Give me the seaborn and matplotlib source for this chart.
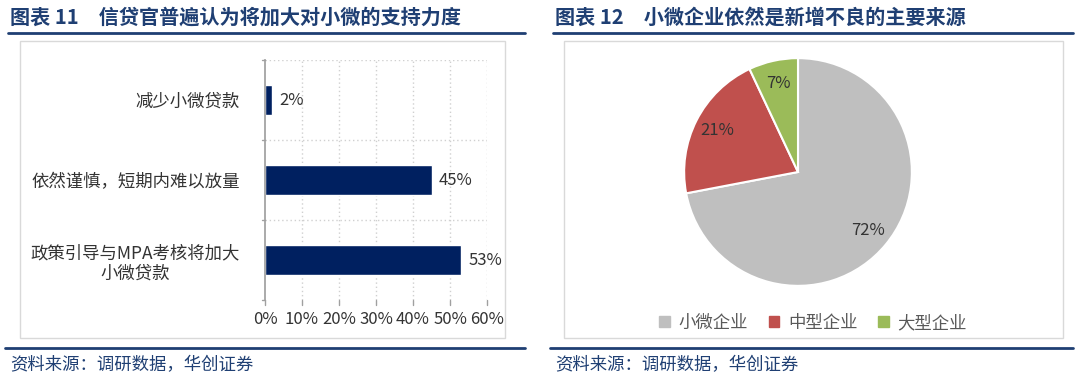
import matplotlib
matplotlib.use("Agg")
import matplotlib.pyplot as plt
from matplotlib.patches import Rectangle
from matplotlib.lines import Line2D
import seaborn as sns
import pandas as pd

# data
bar_labels = ["减少小微贷款", "依然谨慎，短期内难以放量", "政策引导与MPA考核将加大\n小微贷款"]
bar_values = [2, 45, 53]
pie_labels = ["小微企业", "中型企业", "大型企业"]
pie_values = [72, 21, 7]
pie_colors = ["#BFBFBF", "#C0504D", "#9BBB59"]

sns.set_theme(style="white")
plt.rcParams['font.family'] = ['Noto Sans CJK SC', 'DejaVu Sans']

W, H = 1080, 383
fig = plt.figure(figsize=(W / 100, H / 100), dpi=100)
fig.patch.set_facecolor("white")

navy = "#1F3F73"

def px(x, y):
    return x / W, 1 - y / H

# titles, rules and source lines
for x0, x1, title in [(8, 525, "图表 11　信贷官普遍认为将加大对小微的支持力度"),
                      (553, 1073, "图表 12　小微企业依然是新增不良的主要来源")]:
    fig.text(*px(x0 + 2, 17), title, fontsize=14.5, fontweight="bold", color=navy, va="center", ha="left")
    fig.add_artist(Line2D([x0 / W, x1 / W], [1 - 33 / H] * 2, color=navy, lw=2))
    fig.add_artist(Line2D([(x0 - 3) / W, x1 / W], [1 - 348 / H] * 2, color=navy, lw=2))
    fig.text(*px(x0 + 2, 365), "资料来源：调研数据，华创证券", fontsize=12.5, style="italic",
             color=navy, va="center", ha="left")

# inner boxes
for x0, x1 in [(20, 505), (564, 1063)]:
    fig.add_artist(Rectangle((x0 / W, 1 - 338 / H), (x1 - x0) / W, (338 - 41) / H,
                             transform=fig.transFigure, fill=False, edgecolor="#D9D9D9", lw=1))

# bar chart
ax = fig.add_axes([265 / W, 1 - 300 / H, 222 / W, 240 / H])
df = pd.DataFrame({"label": bar_labels, "value": bar_values})
sns.barplot(data=df, y="label", x="value", orient="h", color="#002060", width=0.375,
            saturation=1, ax=ax)
ax.set_xlim(0, 60)
ax.set_ylim(2.5, -0.5)
ax.set_xticks(range(0, 61, 10))
ax.set_xticklabels([f"{v}%" for v in range(0, 61, 10)], fontsize=12, color="#333333")
ax.tick_params(axis="y", labelsize=12.5, colors="#333333", length=0, pad=18)
ax.set_xlabel("")
ax.set_ylabel("")
for lab in ax.get_yticklabels():
    lab.set_multialignment("center")
for x in range(10, 61, 10):
    ax.axvline(x, color="#D0D0D0", lw=1, ls=(0, (1, 2)), zorder=0)
for y in [-0.5, 0.5, 1.5]:
    ax.axhline(y, color="#D0D0D0", lw=1, ls=(0, (1, 2)), zorder=0)
for s in ["top", "right"]:
    ax.spines[s].set_visible(False)
ax.spines["bottom"].set_visible(False)
ax.spines["left"].set_color("#A0A0A0")
ax.tick_params(axis="x", length=0, pad=8)
for i, v in enumerate(bar_values):
    ax.text(v + 2, i, f"{v}%", va="center", ha="left", fontsize=12, color="#333333")
# small ticks on y axis at category boundaries
for y in [-0.5, 0.5, 1.5, 2.5]:
    ax.plot([-0.8, 0], [y, y], color="#A0A0A0", lw=1, clip_on=False)
for x in range(0, 61, 10):
    ax.plot([x, x], [2.5, 2.56], color="#A0A0A0", lw=1, clip_on=False)

# pie chart
pax = fig.add_axes([683 / W, 1 - 287 / H, 230 / W, 230 / H])
wedges, texts, autotexts = pax.pie(pie_values, colors=pie_colors, startangle=90, counterclock=False,
                                   autopct="%d%%", pctdistance=0.8,
                                   wedgeprops=dict(edgecolor="white", linewidth=1.5),
                                   textprops=dict(fontsize=12, color="#333333"))
pax.set_xlim(-1.01, 1.01)
pax.set_ylim(-1.01, 1.01)
pax.set_aspect("equal")

handles = [Rectangle((0, 0), 1, 1, color=c) for c in pie_colors]
fig.legend(handles, pie_labels, loc="center", bbox_to_anchor=px(813, 323), ncol=3, frameon=False,
           fontsize=12.5, handlelength=0.6, handleheight=0.6, handletextpad=0.5, columnspacing=1.2,
           labelcolor="#595959")

fig.savefig("out.png", dpi=100, facecolor="white")
